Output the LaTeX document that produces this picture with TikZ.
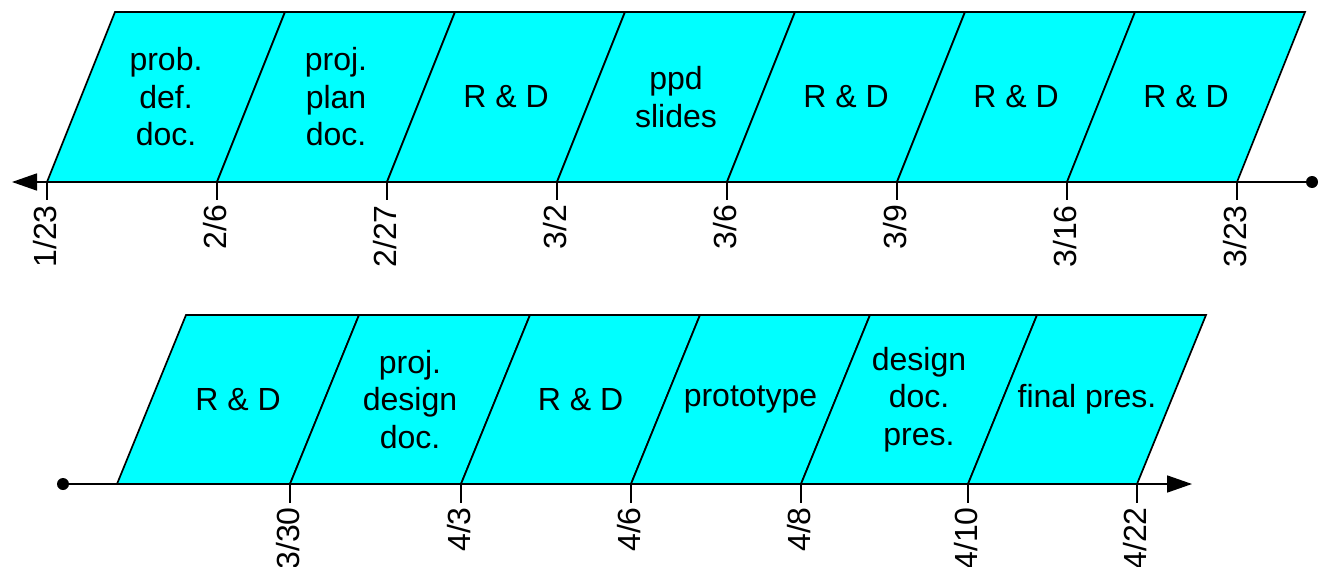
\documentclass[tikz,border=0pt]{standalone}
\usepackage{fontspec}
\setmainfont{Liberation Sans}
\usetikzlibrary{arrows.meta}
\definecolor{boxcyan}{RGB}{0,255,255}
\begin{document}
\begin{tikzpicture}[x=1pt,y=-1pt,
  blk/.style={fill=boxcyan,draw=black,line width=1.7pt,line join=miter},
  lbl/.style={font=\fontsize{32}{37.5}\selectfont,align=center,inner sep=0pt},
  datelbl/.style={rotate=90,anchor=east,font=\fontsize{32}{37}\selectfont,inner sep=0pt},
  tickln/.style={line width=1.7pt},
  axisln/.style={line width=1.7pt},
  dotnode/.style={circle,fill=black,inner sep=0pt,minimum size=12pt}]
\useasboundingbox (0,0) rectangle (1324,567);
% ---- top row ----
\node[dotnode] (d1) at (1312,182) {};
\coordinate (e1) at (12,182);
\draw[axisln,-{Triangle[length=25pt,width=17pt]}] (d1.center) -- (e1);
\foreach \x/\t [count=\i] in {47/{prob.\\def.\\doc.},217/{proj.\\plan\\doc.},387/{R \& D},557/{ppd\\slides},727/{R \& D},897/{R \& D},1067/{R \& D}} {
  \draw[blk] (\x,182) -- (\x+170,182) -- (\x+238,12) -- (\x+68,12) -- cycle;
  \node[lbl] (t\i) at (\x+119,97) {\t};
}
\foreach \x/\d [count=\i] in {47/{1/23},217/{2/6},387/{2/27},557/{3/2},727/{3/6},897/{3/9},1067/{3/16},1237/{3/23}} {
  \coordinate (a\i) at (\x,182);
  \coordinate (at\i) at (\x,200);
  \draw[tickln] (a\i) -- (at\i);
  \node[datelbl] (da\i) at (\x-2,205) {\d};
}
% ---- bottom row ----
\node[dotnode] (d2) at (63,484) {};
\coordinate (e2) at (1192,484);
\draw[axisln,-{Triangle[length=25pt,width=17pt]}] (d2.center) -- (e2);
\foreach \a/\b/\t [count=\i] in {117/290/{R \& D},290/461/{proj.\\design\\doc.},461/631/{R \& D},631/801/{prototype},801/968/{design\\doc.\\pres.},968/1137/{final pres.}} {
  \draw[blk] (\a,484) -- (\b,484) -- (\b+69,315) -- (\a+69,315) -- cycle;
  \node[lbl] (b\i) at ({(\a+\b)/2+34.5},399.5) {\t};
}
\foreach \x/\d [count=\i] in {290/{3/30},461/{4/3},631/{4/6},801/{4/8},968/{4/10},1137/{4/22}} {
  \coordinate (c\i) at (\x,484);
  \coordinate (ct\i) at (\x,503);
  \draw[tickln] (c\i) -- (ct\i);
  \node[datelbl] (dc\i) at (\x-2,507) {\d};
}
\end{tikzpicture}
\end{document}
